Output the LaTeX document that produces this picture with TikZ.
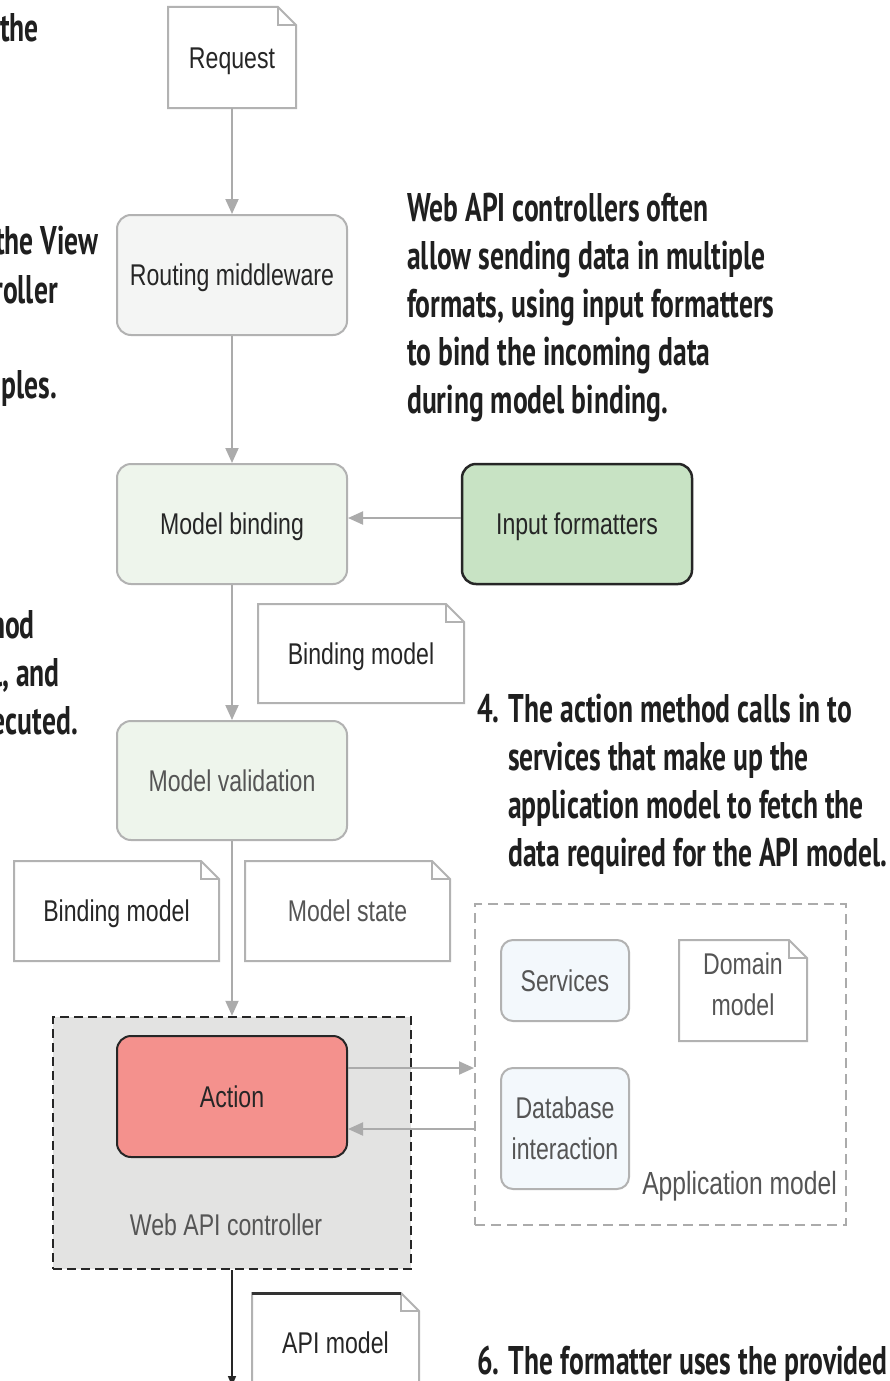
\documentclass[tikz,border=0pt]{standalone}
\usepackage{fontspec}
\setmainfont{Liberation Sans}
\newfontfamily\labfont[FakeStretch=0.77]{Liberation Sans}
\newfontfamily\annfont[FakeStretch=0.69]{PT Sans}
\usetikzlibrary{arrows.meta,calc}
\definecolor{lgray}{HTML}{ABABAB}
\definecolor{bgray}{HTML}{B2B2B2}
\definecolor{tgray}{HTML}{555555}
\definecolor{routefill}{HTML}{F4F5F4}
\definecolor{greenfill}{HTML}{EEF5EC}
\definecolor{inffill}{HTML}{C8E3C4}
\definecolor{actfill}{HTML}{F4918D}
\definecolor{ctrlfill}{HTML}{E3E3E2}
\definecolor{bluefill}{HTML}{F3F8FC}
\newcommand\labsize{\labfont\fontsize{30}{41}\selectfont}
\newcommand\annsize{\annfont\bfseries\fontsize{40}{48}\selectfont}
\tikzset{
  conn/.style={draw=lgray, line width=2pt, -{Triangle[length=15pt,width=13pt]}},
  oneline/.style={text height=21.5pt, text depth=0pt},
  procbox/.style={rectangle, rounded corners=14pt, draw=bgray, line width=2pt,
    minimum width=230pt, minimum height=120pt, font=\labsize, text=black!85, oneline},
  notebox/.style={rectangle, inner sep=0pt, font=\labsize, text=black!85, align=center},
  notestroke/.style={draw=bgray, line width=2pt, fill=white, line join=miter},
  ann/.style={font=\annsize, text=black!88, inner sep=0pt},
  smallbox/.style={rectangle, rounded corners=12pt, draw=bgray, line width=2pt,
    fill=bluefill, font=\labsize, text=tgray, align=center}
}
\newcommand\docnote[8][]{%
  \path[notestroke,#1] ($(#3,#4)+(-#5pt/2,#6pt/2)$) coordinate (tmpnw)
     -- ($(#3,#4)+(#5pt/2-18pt,#6pt/2)$) coordinate (tmpf)
     -- ($(#3,#4)+(#5pt/2,#6pt/2-18pt)$) coordinate (tmpg)
     -- ($(#3,#4)+(#5pt/2,-#6pt/2)$)
     -- ($(#3,#4)+(-#5pt/2,-#6pt/2)$) -- cycle;
  \draw[notestroke,fill=none,#1] (tmpf) |- (tmpg);
  \node[notebox, minimum width=#5pt, minimum height=#6pt, #7] (#2) at (#3,#4) {#8};
}
\begin{document}
\begin{tikzpicture}[x=1pt,y=-1pt]
\useasboundingbox (0,0) rectangle (889,1381);
\fill[white] (0,0) rectangle (889,1381);

% controller group background
\node[rectangle, draw=black!85, fill=ctrlfill, line width=2.5pt,
  dash pattern=on 9pt off 5pt, minimum width=358pt, minimum height=252pt] (ctrl) at (232,1143) {};
\node[font=\labsize, text=tgray, oneline] (ctrllabel) at (226,1225) {Web API controller};

% application model group
\node[rectangle, draw=lgray, line width=2pt, dash pattern=on 10pt off 6pt,
  minimum width=371pt, minimum height=321pt] (app) at (660.5,1064.5) {};
\node[font=\labfont\fontsize{32}{36}\selectfont, text=tgray, anchor=base east, inner sep=0pt] (applabel) at (837,1194) {Application model};

% notes
\docnote{req}{232}{57.5}{128}{101}{oneline}{Request}
\docnote{bm1}{361}{653.5}{206}{99}{oneline}{Binding model}
\docnote{bm2}{116.5}{911}{205}{100}{oneline}{Binding model}
\docnote{ms}{347.5}{911}{205}{100}{oneline, text=tgray}{Model state}
\docnote{dm}{743}{990.5}{128}{101}{text=tgray, yshift=6pt}{Domain\\model}
\docnote{api}{335.5}{1343}{167}{100}{oneline}{API model}
\draw[black!80, line width=3pt] (tmpnw) -- (tmpf);

% process boxes
\node[procbox, fill=routefill] (route) at (232,275) {Routing middleware};
\node[procbox, fill=greenfill] (bind) at (232,524) {Model binding};
\node[procbox, fill=inffill, draw=black!85, line width=2.5pt] (inf) at (577,524) {Input formatters};
\node[procbox, fill=greenfill, minimum height=119pt, text=tgray] (valid) at (232,780.5) {Model validation};
\node[procbox, fill=actfill, draw=black!85, minimum height=121pt] (action) at (232,1096.5) {Action};
\node[smallbox, oneline, minimum width=128pt, minimum height=81pt] (svc) at (565,980.5) {Services};
\node[smallbox, minimum width=128pt, minimum height=121pt] (db) at (565,1128.5) {Database\\interaction};

% connectors
\draw[conn] (req.south) -- (route.north);
\draw[conn] (route.south) -- (bind.north);
\coordinate (infout) at ([yshift=6pt]inf.west);
\draw[conn] (infout) -- (infout -| bind.east);
\draw[conn] (bind.south) -- (valid.north);
\draw[conn] (valid.south) -- (ctrl.north);
\coordinate (actout) at ([yshift=28.5pt]action.east);
\draw[conn] (actout) -- (actout -| app.west);
\coordinate (appout) at ([yshift=-32.5pt]app.west |- action.east);
\draw[conn] (appout) -- (appout -| action.east);
\coordinate (outend) at (232,1386);
\draw[draw=black!85, line width=1.6pt, -{Triangle[length=10pt,width=8pt]}] (ctrl.south) -- (outend);

% annotations (left, cut off at the picture's edge as in the reference)
\node[ann, anchor=base west] (a1) at (0,42) {the};
\node[ann, anchor=base east] (a2) at (99,254) {the View};
\node[ann, anchor=base east] (a3) at (58,303) {roller};
\node[ann, anchor=base east] (a4) at (57,398) {ples.};
\node[ann, anchor=base east] (a5) at (35,638) {hod};
\node[ann, anchor=base east] (a6) at (60,686) {l, and};
\node[ann, anchor=base east] (a7) at (78,734) {ecuted.};

% annotations (right)
\node[ann, anchor=base west] (w1) at (407,221) {Web API controllers often};
\node[ann, anchor=base west] (w2) at (407,269) {allow sending data in multiple};
\node[ann, anchor=base west] (w3) at (407,317) {formats, using input formatters};
\node[ann, anchor=base west] (w4) at (407,365) {to bind the incoming data};
\node[ann, anchor=base west] (w5) at (407,413) {during model binding.};

\node[ann, anchor=base west] (f1) at (477,722) {4. The action method calls in to};
\node[ann, anchor=base west] (f2) at (508,770) {services that make up the};
\node[ann, anchor=base west] (f3) at (508,818) {application model to fetch the};
\node[ann, anchor=base west] (f4) at (508,866) {data required for the API model.};

\node[ann, anchor=base west] (s1) at (477,1374) {6. The formatter uses the provided};
\end{tikzpicture}
\end{document}
